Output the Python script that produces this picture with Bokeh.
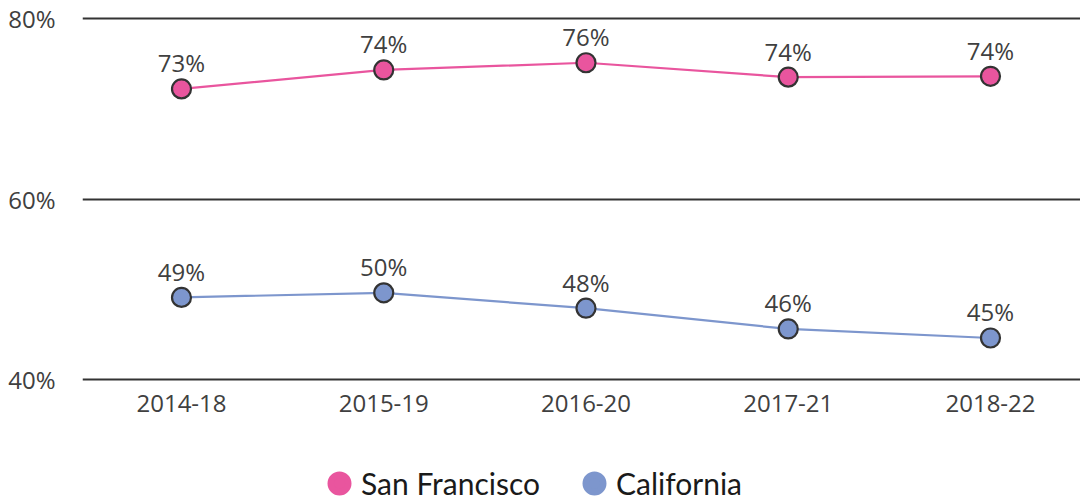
import numpy as np
from bokeh.plotting import figure
from bokeh.models import (ColumnDataSource, Range1d, FixedTicker, Legend, LegendItem,
                          PrintfTickFormatter)
from bokeh.embed import file_html
from bokeh.resources import INLINE
from bokeh.core.properties import value

# ---- data ----
periods = ["2014-18", "2015-19", "2016-20", "2017-21", "2018-22"]
sf_values = [72.2, 74.3, 75.1, 73.5, 73.6]
ca_values = [49.1, 49.6, 47.9, 45.6, 44.6]
sf_labels = ["73%", "74%", "76%", "74%", "74%"]
ca_labels = ["49%", "50%", "48%", "46%", "45%"]
y_ticks = [40, 60, 80]
series_names = ["San Francisco", "California"]

SF_COLOR = "#e9559e"
CA_COLOR = "#7d96cd"
TEXT_COLOR = "#404040"
FONT = "Open Sans"

xpos = list(range(len(periods)))

p = figure(width=1080, height=503, output_backend="svg", toolbar_location=None,
           x_range=Range1d(-0.4895, 4.445), y_range=Range1d(26.26, 81),
           min_border_left=82, min_border_right=0, min_border_top=9, min_border_bottom=0)
p.outline_line_color = None
p.background_fill_color = "white"
p.border_fill_color = "white"

# grid
p.xgrid.visible = False
p.ygrid.ticker = FixedTicker(ticks=y_ticks)
p.ygrid.grid_line_color = "#333333"
p.ygrid.grid_line_width = 2

# y axis
p.yaxis.ticker = FixedTicker(ticks=y_ticks)
p.yaxis.formatter = PrintfTickFormatter(format="%d%%")
p.yaxis.axis_line_color = None
p.yaxis.major_tick_line_color = None
p.yaxis.minor_tick_line_color = None
p.yaxis.major_label_standoff = 21
p.yaxis.major_label_text_font = FONT
p.yaxis.major_label_text_font_size = "24px"
p.yaxis.major_label_text_color = TEXT_COLOR

# x axis at 40
p.xaxis.fixed_location = 40
p.xaxis.ticker = FixedTicker(ticks=xpos)
p.xaxis.major_label_overrides = {i: lab for i, lab in zip(xpos, periods)}
p.xaxis.axis_line_color = None
p.xaxis.major_tick_line_color = None
p.xaxis.minor_tick_line_color = None
p.xaxis.major_label_standoff = 9
p.xaxis.major_label_text_font = FONT
p.xaxis.major_label_text_font_size = "24px"
p.xaxis.major_label_text_color = TEXT_COLOR

sf_src = ColumnDataSource(dict(x=xpos, y=sf_values, label=sf_labels))
ca_src = ColumnDataSource(dict(x=xpos, y=ca_values, label=ca_labels))

for src, col in [(sf_src, SF_COLOR), (ca_src, CA_COLOR)]:
    p.line("x", "y", source=src, line_color=col, line_width=2.2)
    p.scatter("x", "y", source=src, size=19, fill_color=col, line_color="#333333",
              line_width=2.2)
    p.text("x", "y", text="label", source=src, text_align="center",
           text_baseline="alphabetic", y_offset=-26, text_font=value(FONT),
           text_font_size="24px", text_color=TEXT_COLOR)

# legend-only renderers (no visible data)
leg_sf = p.scatter(x=[np.nan], y=[np.nan], size=18, fill_color=SF_COLOR,
                   line_color=SF_COLOR, line_width=6.4)
leg_ca = p.scatter(x=[np.nan], y=[np.nan], size=18, fill_color=CA_COLOR,
                   line_color=CA_COLOR, line_width=6.4)

legend = Legend(items=[LegendItem(label=series_names[0], renderers=[leg_sf]),
                       LegendItem(label=series_names[1], renderers=[leg_ca])],
                location=(235, -10), orientation="horizontal",
                glyph_width=44, glyph_height=60, label_standoff=0,
                spacing=8, label_width=203, padding=0, margin=0,
                border_line_color=None, background_fill_alpha=0,
                label_text_font="Lato", label_text_font_size="30px",
                label_text_color="#1a1a1a", label_text_baseline="middle")
p.add_layout(legend)

open("out.html", "w").write(file_html(p, INLINE))
